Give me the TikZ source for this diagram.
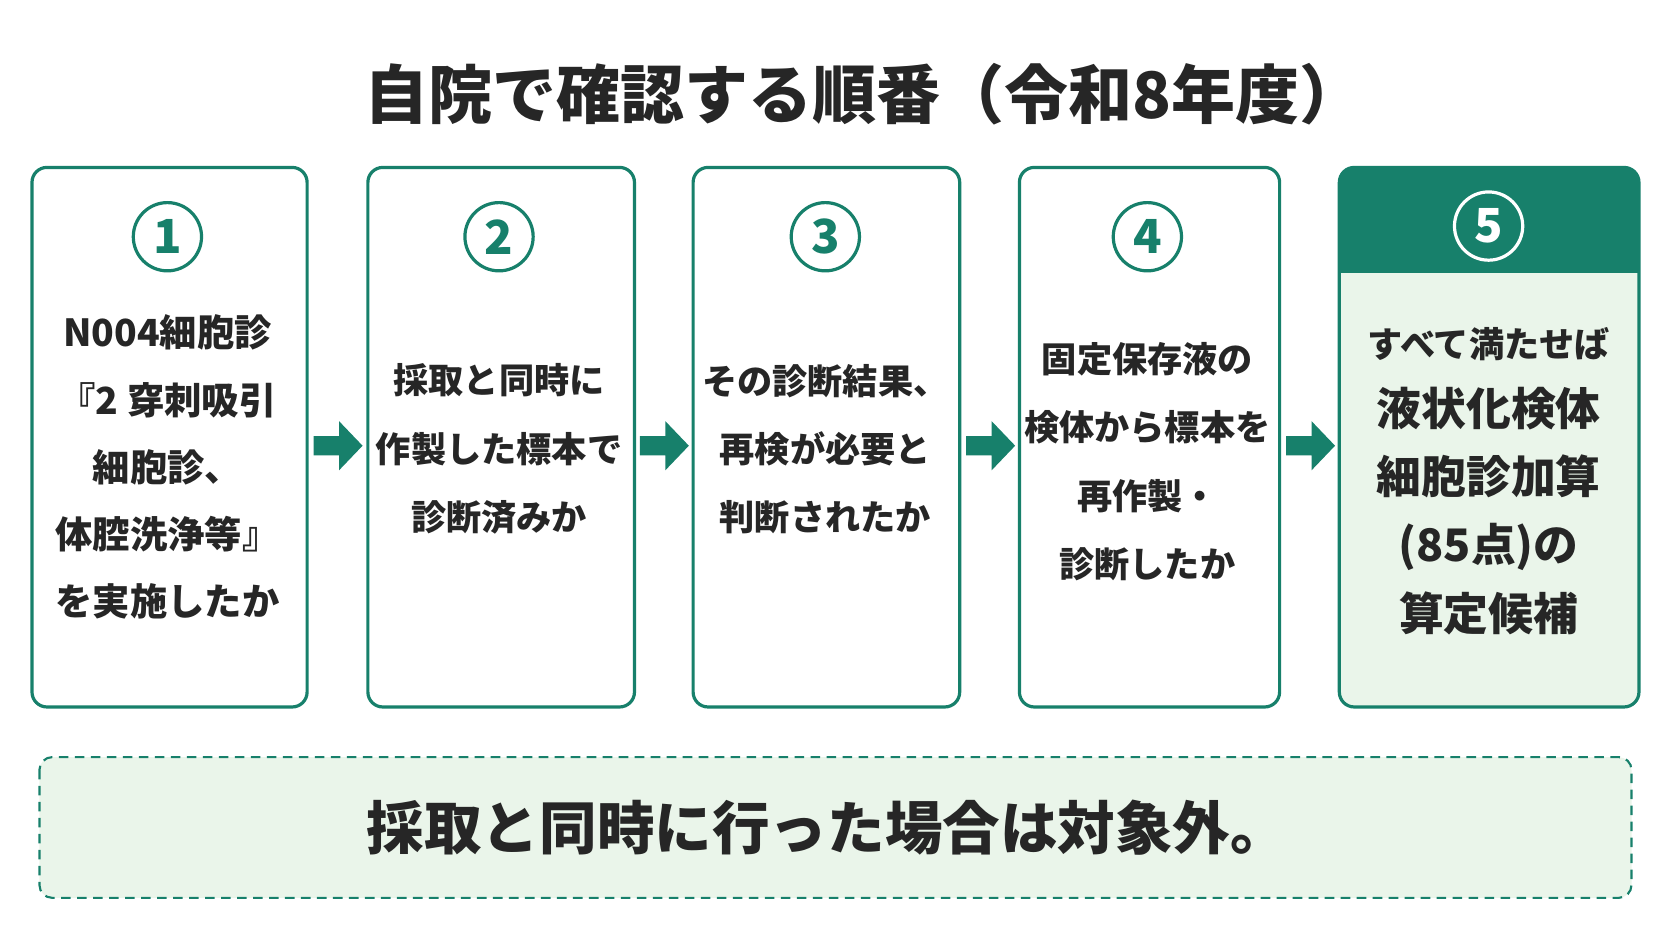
\documentclass[tikz,border=0pt]{standalone}
\usepackage{fontspec}
\setmainfont{Noto Sans CJK JP}[BoldFont={* Black}]
\definecolor{dgreen}{HTML}{17806B}
\definecolor{lgreen}{HTML}{EAF5EA}
\begin{document}
\begin{tikzpicture}[x=1pt,y=-1pt]
        \tikzset{card/.style={draw=dgreen, line width=3pt, rounded corners=14pt, fill=white},
                 num/.style={circle, draw=dgreen, line width=3pt, minimum size=64pt, inner sep=0pt,
                   text=dgreen, font=\bfseries\fontsize{44}{44}\selectfont},
                 body/.style={align=center, font=\bfseries\fontsize{33}{64}\selectfont, text=black!85},
                 flow/.style={fill=dgreen}}
        \useasboundingbox (0,0) rectangle (1568,882);
        \node[font=\bfseries\fontsize{60}{60}\selectfont, text=black!85] (title) at (810,88) {自院で確認する順番（令和8年度）};
        % boxes
        \draw[card] (30,157) rectangle (288,663);
        \draw[card] (345,157) rectangle (595,663);
        \draw[card] (650,157) rectangle (900,663);
        \draw[card] (956,157) rectangle (1200,663);
        \draw[card, fill=lgreen] (1256,157) rectangle (1537,663);
        \fill[dgreen, rounded corners=14pt] (1256,157) rectangle (1537,210);
        \fill[dgreen] (1256,200) rectangle (1537,256);
        % numbers
        \node[num] (n1) at (157,222) {1};
        \node[num] (n2) at (468,222) {2};
        \node[num] (n3) at (774,222) {3};
        \node[num] (n4) at (1076,222) {4};
        \node[num, draw=white, text=white] (n5) at (1396,212) {5};
        % texts
        \node[body, font=\bfseries\fontsize{35}{63}\selectfont] (t1) at (157,438) {N004細胞診\\『2 穿刺吸引\\細胞診、\\体腔洗浄等』\\を実施したか};
        \node[body] (t2) at (468,421) {採取と同時に\\作製した標本で\\診断済みか};
        \node[body] (t3) at (774,421) {その診断結果、\\再検が必要と\\判断されたか};
        \node[body] (t4) at (1076,433) {固定保存液の\\検体から標本を\\再作製・\\診断したか};
        \node[body, font=\bfseries\fontsize{42}{64}\selectfont] (t5) at (1396,451)
          {{\fontsize{33}{33}\selectfont すべて満たせば}\\液状化検体\\細胞診加算\\(85点)の\\算定候補};
        % arrows
        \foreach \ax in {294,600,906,1206}
          \fill[flow] (\ax,409) -- ++(24,0) -- ++(0,-14) -- ++(22,23) -- ++(-22,23) -- ++(0,-14) -- ++(-24,0) -- cycle;
        % note
        \draw[dgreen, line width=2pt, dash pattern=on 9pt off 6pt, fill=lgreen, rounded corners=12pt]
          (37,710) rectangle (1530,842);
        \node[font=\bfseries\fontsize{54}{54}\selectfont, text=black!85] (note) at (776,776) {採取と同時に行った場合は対象外。};
\end{tikzpicture}
\end{document}
